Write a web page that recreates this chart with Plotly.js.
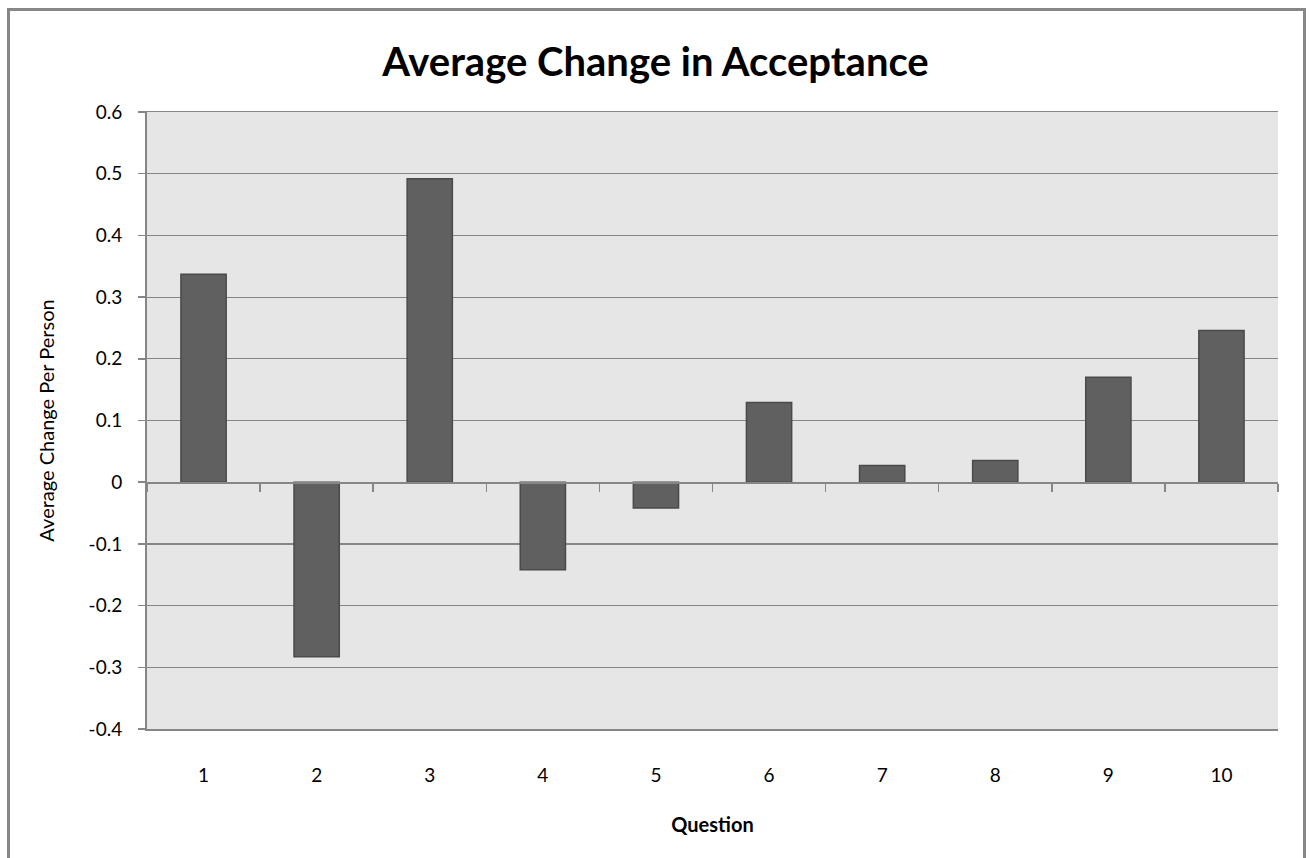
<!DOCTYPE html>
<html>
<head>
<meta charset="utf-8">
<script src="https://cdn.plot.ly/plotly-3.0.1.min.js"></script>
<style>
  html, body { margin: 0; padding: 0; background: #ffffff; }
  #wrap { position: relative; width: 1311px; height: 858px; overflow: hidden; }
  #frame { position: absolute; left: 7px; top: 8px; width: 1299px; height: 900px;
           border: 3px solid #878787; box-sizing: border-box; pointer-events: none; z-index: 5; }
  #chart { position: absolute; left: 0; top: 0; width: 1311px; height: 858px; }
</style>
</head>
<body>
<div id="wrap">
  <div id="chart"></div>
  <div id="frame"></div>
</div>
<script>
// Data
const questions = [1, 2, 3, 4, 5, 6, 7, 8, 9, 10];
const avgChange = [0.337, -0.283, 0.492, -0.142, -0.042, 0.129, 0.027, 0.035, 0.170, 0.246];
const xTickText = ['1', '2', '3', '4', '5', '6', '7', '8', '9', '10'];
const yTickVals = [-0.4, -0.3, -0.2, -0.1, 0, 0.1, 0.2, 0.3, 0.4, 0.5, 0.6];
const yTickText = ['-0.4', '-0.3', '-0.2', '-0.1', '0', '0.1', '0.2', '0.3', '0.4', '0.5', '0.6'];

const gridCol = '#868686';
const fontFam = 'Lato, "Open Sans", sans-serif';

const trace = {
  type: 'bar',
  x: questions,
  y: avgChange,
  marker: { color: '#606060', line: { color: '#4a4a4a', width: 1.5 } },
  hoverinfo: 'x+y'
};

const layout = {
  width: 1311,
  height: 858,
  margin: { l: 147, r: 33, t: 112, b: 129 },
  paper_bgcolor: '#ffffff',
  plot_bgcolor: '#e6e6e6',
  showlegend: false,
  bargap: 0.6,
  font: { family: fontFam, color: '#000000', size: 19 },
  title: {
    text: '<b>Average Change in Acceptance</b>',
    font: { family: fontFam, size: 40, color: '#000000' },
    x: 0.5, xref: 'container', xanchor: 'center',
    y: 1 - 62 / 858, yref: 'container', yanchor: 'middle'
  },
  xaxis: {
    range: [0.5, 10.5],
    tickvals: questions,
    ticktext: xTickText,
    ticks: '',
    showgrid: false,
    zeroline: false,
    showline: true,
    mirror: true,
    linecolor: gridCol,
    linewidth: 1.5,
    ticklabelstandoff: 29,
    tickfont: { family: fontFam, size: 19, color: '#000000' },
    title: { text: '<b>Question</b>', font: { family: fontFam, size: 20, color: '#000000' }, standoff: 32 },
    fixedrange: true
  },
  xaxis2: {
    overlaying: 'x',
    anchor: 'free',
    position: 0.4,
    range: [0.5, 10.5],
    tick0: 0.5,
    dtick: 1,
    ticks: 'outside',
    ticklen: 8,
    tickwidth: 1.5,
    tickcolor: gridCol,
    showticklabels: false,
    showgrid: false,
    zeroline: false,
    showline: true,
    linecolor: gridCol,
    linewidth: 1.5,
    fixedrange: true
  },
  yaxis: {
    range: [-0.4, 0.6],
    tickvals: yTickVals,
    ticktext: yTickText,
    ticks: 'outside',
    ticklen: 7,
    tickwidth: 1.5,
    tickcolor: gridCol,
    showgrid: true,
    gridcolor: gridCol,
    gridwidth: 1.2,
    zeroline: false,
    showline: true,
    linecolor: gridCol,
    linewidth: 2,
    ticklabelstandoff: 12,
    tickfont: { family: fontFam, size: 19, color: '#000000' },
    title: { text: 'Average Change Per Person', font: { family: fontFam, size: 20, color: '#000000' }, standoff: 29 },
    fixedrange: true
  }
};

const traces = [trace, {
  type: 'scatter', x: [], y: [], xaxis: 'x2', yaxis: 'y', hoverinfo: 'skip', showlegend: false
}];

Plotly.newPlot('chart', traces, layout, { displayModeBar: false, staticPlot: true });
</script>
</body>
</html>
